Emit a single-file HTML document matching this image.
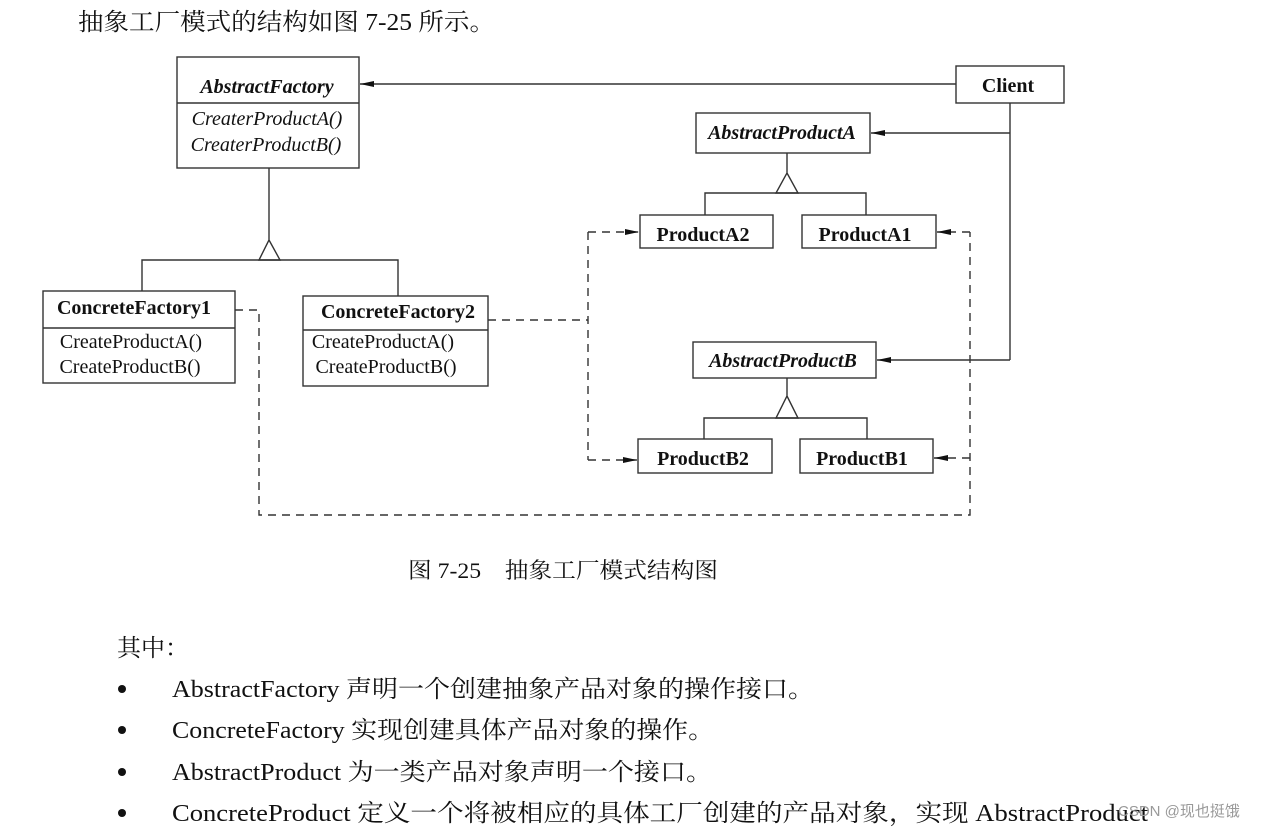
<!DOCTYPE html>
<html><head><meta charset="utf-8"><style>
html,body{margin:0;padding:0;background:#fff;}
svg{display:block;}
.t{font-family:"Liberation Serif","Noto Serif CJK SC",serif;fill:#111;}
.b{font-weight:bold;}
.i{font-style:italic;}
</style></head><body>
<svg width="1270" height="828" viewBox="0 0 1270 828" xmlns="http://www.w3.org/2000/svg">
<defs>
<marker id="ar" markerWidth="14" markerHeight="8" refX="14" refY="4" orient="auto" markerUnits="userSpaceOnUse">
<path d="M0,1 L14,4 L0,7 Z" fill="#111"/></marker>
</defs>
<g class="t" font-size="24">
<text x="78" y="30" textLength="417" lengthAdjust="spacingAndGlyphs">抽象工厂模式的结构如图 7-25 所示。</text>
<text x="408" y="578" font-size="22" textLength="310" lengthAdjust="spacingAndGlyphs">图 7-25　抽象工厂模式结构图</text>
<text x="117" y="656">其中：</text>
<text x="172" y="697" textLength="642" lengthAdjust="spacingAndGlyphs">AbstractFactory 声明一个创建抽象产品对象的操作接口。</text>
<text x="172" y="738" textLength="542" lengthAdjust="spacingAndGlyphs">ConcreteFactory 实现创建具体产品对象的操作。</text>
<text x="172" y="780" textLength="540" lengthAdjust="spacingAndGlyphs">AbstractProduct 为一类产品对象声明一个接口。</text>
<text x="172" y="821" textLength="976" lengthAdjust="spacingAndGlyphs">ConcreteProduct 定义一个将被相应的具体工厂创建的产品对象，实现 AbstractProduct</text>
</g>
<g fill="#111"><circle cx="122" cy="689" r="4"/><circle cx="122" cy="730" r="4"/><circle cx="122" cy="772" r="4"/><circle cx="122" cy="813" r="4"/></g>
<text x="1118" y="816" font-family="Liberation Sans,'Noto Sans CJK SC',sans-serif" font-size="15" fill="#999">CSDN @现也挺饿</text>

<g stroke="#333" stroke-width="1.4" fill="none">
<rect x="177" y="57" width="182" height="111"/><line x1="177" y1="103" x2="359" y2="103"/>
<rect x="956" y="66" width="108" height="37"/>
<rect x="43" y="291" width="192" height="92"/><line x1="43" y1="328" x2="235" y2="328"/>
<rect x="303" y="296" width="185" height="90"/><line x1="303" y1="330" x2="488" y2="330"/>
<rect x="696" y="113" width="174" height="40"/>
<rect x="640" y="215" width="133" height="33"/>
<rect x="802" y="215" width="134" height="33"/>
<rect x="693" y="342" width="183" height="36"/>
<rect x="638" y="439" width="134" height="34"/>
<rect x="800" y="439" width="133" height="34"/>
<path d="M269,168 V240 L259,260 H280 L269,240"/>
<path d="M142,291 V260 H398 V296"/>
<path d="M787,153 V173 L776,193 H798 L787,173"/>
<path d="M705,215 V193 H866 V215"/>
<path d="M787,378 V396 L776,418 H798 L787,396"/>
<path d="M704,439 V418 H867 V439"/>
<line x1="956" y1="84" x2="360" y2="84" marker-end="url(#ar)"/>
<path d="M1010,103 V360"/>
<line x1="1010" y1="133" x2="871" y2="133" marker-end="url(#ar)"/>
<line x1="1010" y1="360" x2="877" y2="360" marker-end="url(#ar)"/>
<g stroke-dasharray="8,6">
<path d="M488,320 H588"/>
<path d="M588,232 V460"/>
<line x1="588" y1="232" x2="639" y2="232" marker-end="url(#ar)"/>
<line x1="588" y1="460" x2="637" y2="460" marker-end="url(#ar)"/>
<path d="M235,310 H259 V515 H970 V232"/>
<line x1="970" y1="232" x2="937" y2="232" marker-end="url(#ar)"/>
<line x1="970" y1="458" x2="934" y2="458" marker-end="url(#ar)"/>
</g>
</g>

<g class="t" font-size="20" text-anchor="middle">
<text x="267" y="93" class="b i">AbstractFactory</text>
<text x="267" y="125" class="i">CreaterProductA()</text>
<text x="266" y="151" class="i">CreaterProductB()</text>
<text x="1008" y="92" class="b">Client</text>
<text x="134" y="314" class="b">ConcreteFactory1</text>
<text x="131" y="348">CreateProductA()</text>
<text x="130" y="373">CreateProductB()</text>
<text x="398" y="318" class="b">ConcreteFactory2</text>
<text x="383" y="348">CreateProductA()</text>
<text x="386" y="373">CreateProductB()</text>
<text x="782" y="139" class="b i">AbstractProductA</text>
<text x="703" y="241" class="b">ProductA2</text>
<text x="865" y="241" class="b">ProductA1</text>
<text x="783" y="367" class="b i">AbstractProductB</text>
<text x="703" y="465" class="b">ProductB2</text>
<text x="862" y="465" class="b">ProductB1</text>
</g>
</svg>
</body></html>
